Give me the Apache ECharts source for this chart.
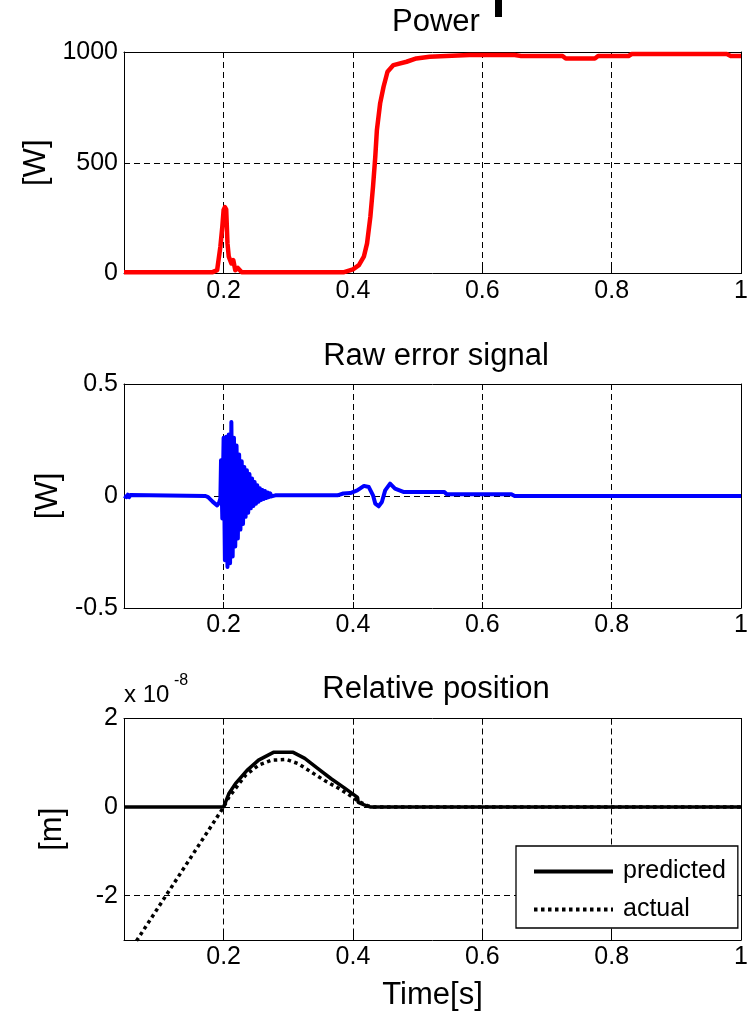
<!DOCTYPE html>
<html><head><meta charset="utf-8">
<script src="https://cdn.jsdelivr.net/npm/echarts@6/dist/echarts.min.js"></script>
<style>html,body{margin:0;padding:0;background:#fff;}#c{width:751px;height:1015px;}</style>
</head><body><div id="c"></div>
<script>
// ---------- data ----------
const xTickValues = [0.2, 0.4, 0.6, 0.8, 1];
const powerTicks = [0, 500, 1000];
const errorTicks = [-0.5, 0, 0.5];
const posTicks = [-2, 0, 2];          // units of 1e-8 m

const powerX = [0.046, 0.183, 0.190, 0.195, 0.198, 0.200, 0.202, 0.204, 0.206, 0.208, 0.212, 0.215, 0.218, 0.222, 0.228,
  0.3863, 0.400, 0.4092, 0.4168, 0.4218, 0.4269, 0.431, 0.4345, 0.437, 0.442, 0.4473, 0.4534, 0.4626, 0.4829, 0.498, 0.5185,
  0.544, 0.58, 0.65, 0.66, 0.724, 0.729, 0.774, 0.779, 0.826, 0.831, 0.978, 0.984, 1.0];
const powerY = [6, 6, 15, 121, 211, 287, 300, 290, 136, 76, 46, 60, 15, 25, 6,
  6, 19, 38, 76, 136, 256, 392, 527, 648, 768, 843, 911, 941, 956, 971, 979,
  982, 986, 986, 982, 982, 971, 971, 982, 982, 991, 991, 982, 982];

const errX = [0.046, 0.048, 0.050, 0.052, 0.054, 0.056, 0.058, 0.172, 0.176, 0.183, 0.190, 0.193, 0.195,
  0.196, 0.198, 0.200, 0.202, 0.204, 0.206, 0.208, 0.210, 0.212, 0.214, 0.216, 0.218, 0.220, 0.222, 0.224, 0.226,
  0.228, 0.230, 0.232, 0.234, 0.236, 0.238, 0.240, 0.242, 0.244, 0.246, 0.248, 0.250, 0.252, 0.254, 0.256, 0.258,
  0.260, 0.262, 0.264, 0.266, 0.268, 0.270, 0.272, 0.274, 0.276,
  0.280, 0.376, 0.385, 0.396, 0.4066, 0.417, 0.4245, 0.431, 0.4345, 0.4397, 0.4447, 0.4498, 0.4574, 0.465, 0.4779,
  0.5413, 0.545, 0.645, 0.65, 1.0];
const errY = [0, 0.006, -0.005, 0.006, -0.005, 0.005, 0, 0, -0.005, -0.025, -0.042, -0.03, -0.01,
  0.16, -0.10, 0.26, -0.287, 0.265, -0.317, 0.275, -0.30, 0.33, -0.27, 0.26, -0.225, 0.225, -0.19, 0.185, -0.15,
  0.155, -0.125, 0.13, -0.093, 0.115, -0.075, 0.098, -0.055, 0.078, -0.045, 0.062, -0.035, 0.048, -0.026, 0.035, -0.018,
  0.027, -0.013, 0.022, -0.009, 0.016, -0.005, 0.012, -0.002, 0.005,
  0.003, 0.003, 0.011, 0.013, 0.025, 0.045, 0.040, 0.003, -0.034, -0.046, -0.027, 0.025, 0.055, 0.033, 0.018,
  0.018, 0.008, 0.008, 0, 0];

const predX = [0.046, 0.2, 0.208, 0.2183, 0.2362, 0.254, 0.277, 0.3076, 0.3255, 0.3459, 0.3663, 0.3867, 0.3995, 0.4071, 0.4081, 0.4174, 0.4275, 1.0];
const predY = [0, 0, 0.30, 0.53, 0.83, 1.06, 1.236, 1.236, 1.10, 0.87, 0.64, 0.435, 0.30, 0.22, 0.105, 0.05, 0, 0];

const actX = [0.0653, 0.2, 0.208, 0.2337, 0.254, 0.2744, 0.2974, 0.3153, 0.3356, 0.3561, 0.3765, 0.3918, 0.4071, 0.4224, 0.4327, 1.0];
const actY = [-3.02, 0, 0.22, 0.716, 0.945, 1.06, 1.075, 0.98, 0.79, 0.60, 0.435, 0.30, 0.145, 0.03, 0, 0];

// ---------- chart ----------
const FONT = "'Liberation Sans', Arial, sans-serif";
const TITLE_SIZE = 31;
const zip = (a, b) => a.map((v, i) => [v, b[i]]);
const grids = [
  { left: 124, top: 52, width: 623, height: 221.5 },
  { left: 124, top: 384, width: 623, height: 224 },
  { left: 124, top: 718.5, width: 623, height: 221.5 }
];
const dash = { type: [6, 4], color: '#000', width: 1 };
const axisLineStyle = { show: true, onZero: false, lineStyle: { color: '#000', width: 1 } };
const yRanges = [
  { min: 0, max: 1000, ticks: powerTicks, name: '[W]' },
  { min: -0.5, max: 0.5, ticks: errorTicks, name: '[W]' },
  { min: -3, max: 2, ticks: posTicks, name: '[m]' }
];
const plain = v => String(v);
const xAxes = [], yAxes = [];
grids.forEach((g, i) => {
  xAxes.push({
    type: 'value', gridIndex: i, min: 0.046, max: 1, position: 'bottom',
    axisLine: axisLineStyle,
    axisTick: { show: true, inside: true, length: 6, customValues: xTickValues, lineStyle: { color: '#000' } },
    axisLabel: { customValues: xTickValues, color: '#000', fontSize: 25, fontFamily: FONT, margin: 5, formatter: plain },
    splitLine: { show: true, lineStyle: dash },
    name: i === 2 ? 'Time[s]' : '', nameLocation: 'middle', nameGap: 40,
    nameTextStyle: { color: '#000', fontSize: TITLE_SIZE, fontFamily: FONT }
  });
  xAxes.push({
    type: 'value', gridIndex: i, min: 0.046, max: 1, position: 'top',
    axisLine: axisLineStyle,
    axisTick: { show: true, inside: true, length: 6, customValues: xTickValues, lineStyle: { color: '#000' } },
    axisLabel: { show: false }, splitLine: { show: false }
  });
  const r = yRanges[i];
  yAxes.push({
    type: 'value', gridIndex: i, min: r.min, max: r.max, position: 'left',
    axisLine: axisLineStyle,
    axisTick: { show: true, inside: true, length: 6, customValues: r.ticks, lineStyle: { color: '#000' } },
    axisLabel: { customValues: r.ticks, color: '#000', fontSize: 25, fontFamily: FONT, margin: 6, formatter: plain },
    splitLine: { show: true, lineStyle: dash },
    name: r.name, nameLocation: 'middle', nameRotate: 90, nameGap: 56,
    nameTextStyle: { color: '#000', fontSize: TITLE_SIZE, fontFamily: FONT }
  });
  yAxes.push({
    type: 'value', gridIndex: i, min: r.min, max: r.max, position: 'right',
    axisLine: axisLineStyle,
    axisTick: { show: true, inside: true, length: 6, customValues: r.ticks, lineStyle: { color: '#000' } },
    axisLabel: { show: false }, splitLine: { show: false }
  });
});

const lineBase = { type: 'line', showSymbol: false, symbol: 'none', animation: false, silent: true };
const option = {
  animation: false,
  backgroundColor: '#fff',
  grid: grids,
  xAxis: xAxes,
  yAxis: yAxes,
  legend: {
    data: ['predicted', 'actual'], orient: 'vertical', left: 516, top: 846,
    padding: [13, 12, 6, 16], itemWidth: 79, itemHeight: 22, itemGap: 13,
    itemStyle: { opacity: 0 },
    lineStyle: { width: 4 },
    borderColor: '#000', borderWidth: 1.3, backgroundColor: '#fff', borderRadius: 0,
    textStyle: { color: '#000', fontSize: 25, fontFamily: FONT, padding: [0, 0, 0, 5] },
    selectedMode: false
  },
  graphic: [
    { type: 'rect', shape: { x: 495, y: 0, width: 7, height: 17 }, style: { fill: '#000' } },
    { type: 'text', style: { text: 'Power', x: 436, y: 22, align: 'center', verticalAlign: 'middle', fontSize: TITLE_SIZE, fontFamily: FONT, fill: '#000' } },
    { type: 'text', style: { text: 'Raw error signal', x: 436, y: 356, align: 'center', verticalAlign: 'middle', fontSize: TITLE_SIZE, fontFamily: FONT, fill: '#000' } },
    { type: 'text', style: { text: 'Relative position', x: 436, y: 689, align: 'center', verticalAlign: 'middle', fontSize: TITLE_SIZE, fontFamily: FONT, fill: '#000' } },
    { type: 'text', style: { text: 'x 10', x: 124, y: 695, align: 'left', verticalAlign: 'middle', fontSize: 24, fontFamily: FONT, fill: '#000' } },
    { type: 'text', style: { text: '-8', x: 174, y: 681, align: 'left', verticalAlign: 'middle', fontSize: 16, fontFamily: FONT, fill: '#000' } }
  ],
  series: [
    Object.assign({}, lineBase, { name: 'power', xAxisIndex: 0, yAxisIndex: 0, data: zip(powerX, powerY),
      lineStyle: { color: '#ff0000', width: 4.5, join: 'round' } }),
    Object.assign({}, lineBase, { name: 'error', xAxisIndex: 2, yAxisIndex: 2, data: zip(errX, errY),
      lineStyle: { color: '#0000ff', width: 4, join: 'round' } }),
    Object.assign({}, lineBase, { name: 'actual', xAxisIndex: 4, yAxisIndex: 4, data: zip(actX, actY),
      itemStyle: { color: '#000' },
      lineStyle: { color: '#000', width: 3.5, type: [3.5, 3.5] } }),
    Object.assign({}, lineBase, { name: 'predicted', xAxisIndex: 4, yAxisIndex: 4, data: zip(predX, predY),
      itemStyle: { color: '#000' },
      lineStyle: { color: '#000', width: 3.5 } })
  ]
};
const chart = echarts.init(document.getElementById('c'), null, { renderer: 'canvas' });
chart.setOption(option);
</script></body></html>
